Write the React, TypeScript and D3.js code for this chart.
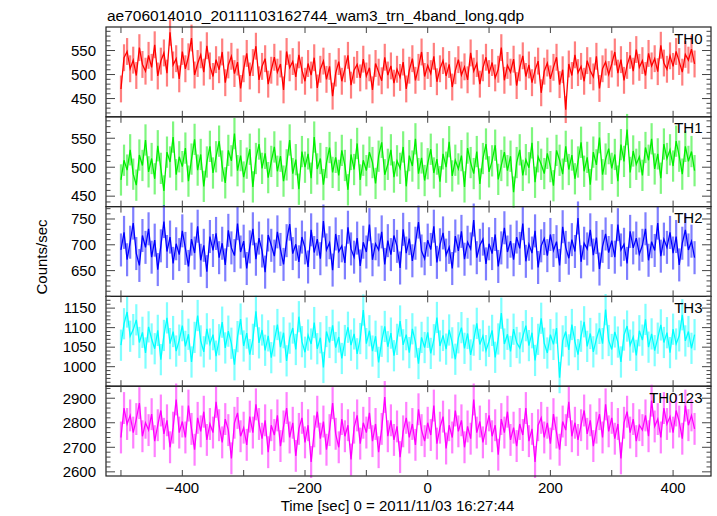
import React from "react";
import * as d3 from "d3";

const TITLE = "ae706014010_20111103162744_wam3_trn_4band_long.qdp";
const X_LABEL = "Time [sec] 0 = 2011/11/03 16:27:44";
const Y_LABEL = "Counts/sec";
const TIME_START = -500;
const BIN = 5;

const TH0 = [
  470, 535, 548, 512, 530, 498, 556, 521, 507, 540,
  515, 562, 497, 528, 545, 503, 588, 520, 533, 491,
  548, 512, 537, 576, 499, 523, 541, 505, 560, 518,
  496, 531, 510, 547, 483, 520, 538, 502, 526, 471,
  512, 544, 497, 525, 559, 489, 517, 533, 480, 509,
  536, 505, 522, 468, 548, 514, 527, 495, 541, 509,
  486, 523, 499, 535, 472, 511, 528, 490, 517, 455,
  503, 527, 486, 512, 540, 478, 509, 521, 493, 532,
  497, 514, 468, 523, 505, 487, 536, 499, 518, 482,
  511, 494, 526, 470, 509, 533, 488, 515, 547, 496,
  519, 502, 538, 485, 512, 529, 497, 521, 474, 508,
  531, 499, 516, 489, 545, 507, 523, 480, 514, 536,
  502, 525, 493, 511, 556, 488, 519, 505, 532, 477,
  514, 539, 496, 520, 483, 509, 528, 462, 507, 524,
  491, 515, 536, 479, 510, 427, 522, 498, 541, 504,
  517, 486, 529, 508, 495, 538, 471, 512, 526, 500,
  522, 547, 503, 531, 488, 519, 540, 507, 552, 515,
  529, 498, 544, 518, 533, 506, 561, 524, 511, 539,
  517, 548, 527, 505, 542, 530, 553, 522,
];
const TH1 = [
  478, 512, 495, 530, 488, 469, 521, 503, 547, 492,
  515, 480, 537, 498, 459, 526, 509, 552, 487, 518,
  501, 533, 476, 514, 548, 495, 522, 467, 509, 536,
  490, 518, 545, 502, 473, 529, 511, 558, 494, 520,
  483, 507, 531, 466, 515, 540, 498, 524, 482, 510,
  535, 493, 519, 476, 504, 547, 489, 513, 462, 527,
  500, 523, 481, 552, 497, 515, 470, 508, 534, 491,
  517, 486, 529, 503, 461, 522, 496, 541, 478, 512,
  494, 526, 508, 472, 519, 543, 487, 505, 530, 483,
  511, 498, 535, 467, 520, 502, 549, 489, 516, 477,
  506, 531, 490, 514, 475, 523, 500, 544, 485, 512,
  497, 520, 466, 533, 508, 489, 527, 471, 515, 540,
  492, 511, 538, 479, 503, 526, 494, 519, 457, 508,
  530, 486, 513, 499, 542, 474, 518, 505, 489, 524,
  501, 468, 529, 512, 488, 536, 496, 521, 480, 509,
  543, 493, 517, 470, 526, 504, 551, 487, 514, 532,
  498, 522, 476, 539, 510, 565, 491, 528, 505, 518,
  486, 534, 512, 549, 497, 523, 481, 540, 515, 530,
  502, 545, 519, 488, 536, 510, 527, 494,
];
const TH2 = [
  690, 724, 671, 705, 742, 683, 660, 718, 695, 731,
  676, 709, 652, 698, 745, 687, 715, 664, 702, 681,
  727, 693, 658, 711, 684, 736, 670, 699, 648, 716,
  689, 722, 675, 703, 661, 728, 694, 679, 741, 686,
  707, 654, 696, 731, 672, 713, 688, 647, 719, 699,
  678, 725, 691, 662, 708, 740, 683, 701, 667, 715,
  694, 657, 729, 685, 711, 673, 746, 690, 704, 651,
  721, 687, 698, 665, 734, 692, 676, 713, 659, 705,
  686, 739, 671, 702, 690, 725, 662, 708, 681, 718,
  697, 655, 730, 684, 712, 669, 703, 744, 688, 673,
  709, 691, 736, 666, 700, 723, 680, 695, 654, 717,
  688, 726, 672, 705, 692, 748, 675, 699, 711, 663,
  702, 683, 720, 658, 694, 733, 686, 707, 671, 715,
  693, 741, 668, 701, 684, 727, 656, 698, 712, 679,
  720, 689, 706, 660, 735, 695, 674, 710, 687, 752,
  667, 703, 692, 729, 680, 714, 653, 697, 721, 685,
  708, 676, 739, 690, 701, 664, 726, 694, 713, 682,
  699, 731, 670, 706, 689, 742, 678, 711, 695, 724,
  684, 716, 661, 703, 729, 690, 707, 675,
];
const TH3 = [
  1055, 1110, 1140, 1078, 1095, 1120, 1062, 1088, 1035, 1102,
  1071, 1046, 1093, 1018, 1080, 1125, 1059, 1090, 1040, 1068,
  1105, 1052, 1083, 1012, 1075, 1131, 1066, 1038, 1097, 1058,
  1082, 1027, 1069, 1114, 1048, 1091, 1060, 1005, 1077, 1122,
  1053, 1086, 1031, 1070, 1142, 1061, 1094, 1042, 1079, 1023,
  1066, 1108, 1050, 1087, 1015, 1073, 1099, 1044, 1128, 1064,
  1037, 1081, 1058, 1113, 1046, 1074, 998, 1090, 1062, 1106,
  1049, 1076, 1021, 1067, 1101, 1055, 1084, 1033, 1072, 1145,
  1059, 1092, 1040, 1078, 1011, 1065, 1103, 1051, 1086, 1028,
  1070, 1117, 1056, 1082, 1036, 1097, 1063, 1008, 1075, 1049,
  1088, 1034, 1069, 1126, 1053, 1080, 1045, 1094, 1061, 1019,
  1074, 1100, 1047, 1085, 1030, 1068, 1111, 1057, 1079, 1041,
  1065, 1093, 1024, 1071, 1137, 1058, 1083, 1039, 1096, 1062,
  1048, 1077, 1105, 1054, 1087, 1016, 1070, 1124, 1060, 1035,
  1082, 1057, 1099, 972, 1066, 1090, 1043, 1108, 1064, 1031,
  1078, 1115, 1052, 1085, 1038, 1071, 1098, 1059, 1146, 1067,
  1044, 1089, 1063, 1012, 1081, 1104, 1055, 1076, 1029, 1092,
  1068, 1121, 1050, 1084, 1041, 1073, 1107, 1062, 1087, 1036,
  1096, 1058, 1079, 1133, 1066, 1090, 1047, 1082,
];
const TH0123 = [
  2740, 2860, 2795, 2830, 2760, 2815, 2880, 2745, 2800, 2770,
  2835, 2725, 2790, 2850, 2755, 2810, 2700, 2780, 2895, 2760,
  2805, 2740, 2870, 2775, 2690, 2820, 2765, 2845, 2730, 2795,
  2760, 2885, 2790, 2720, 2815, 2770, 2655, 2800, 2840, 2745,
  2780, 2710, 2825, 2760, 2875, 2795, 2735, 2810, 2680, 2790,
  2750, 2830, 2705, 2785, 2860, 2740, 2800, 2665, 2775, 2820,
  2720, 2790, 2640, 2765, 2845, 2735, 2805, 2690, 2770, 2880,
  2755, 2700, 2815, 2745, 2790, 2650, 2780, 2830, 2715, 2800,
  2760, 2840, 2725, 2795, 2680, 2775, 2905, 2745, 2810, 2730,
  2785, 2660, 2765, 2820, 2740, 2795, 2710, 2855, 2770, 2725,
  2800, 2750, 2870, 2715, 2780, 2825, 2695, 2790, 2740, 2850,
  2765, 2810, 2700, 2785, 2735, 2895, 2760, 2805, 2720, 2775,
  2830, 2745, 2790, 2670, 2815, 2760, 2845, 2730, 2780, 2705,
  2795, 2750, 2860, 2725, 2775, 2640, 2790, 2820, 2740, 2800,
  2715, 2835, 2760, 2690, 2805, 2770, 2885, 2745, 2800, 2730,
  2790, 2850, 2755, 2810, 2705, 2780, 2835, 2740, 2875, 2765,
  2820, 2735, 2795, 2655, 2800, 2845, 2760, 2815, 2725, 2790,
  2770, 2830, 2745, 2890, 2785, 2815, 2740, 2860, 2795, 2825,
  2760, 2850, 2805, 2735, 2870, 2790, 2830, 2775,
];

const SERIES = [TH0, TH1, TH2, TH3, TH0123];
const NAMES = ["TH0", "TH1", "TH2", "TH3", "TH0123"];
const COLORS = ["#ff0000", "#00ee00", "#0000ff", "#00ffff", "#ff00ff"];
const ERRORS = [28, 27, 32, 40, 65];
const Y_DOMAINS: [number, number][] = [
  [412, 599],
  [432, 587],
  [600, 774],
  [950, 1180],
  [2583, 2949],
];
const Y_MAJOR = [
  [450, 500, 550],
  [450, 500, 550],
  [650, 700, 750],
  [1000, 1050, 1100, 1150],
  [2600, 2700, 2800, 2900],
];
const Y_MINOR_STEP = [10, 10, 10, 10, 20];
const X_TICKS = [-500, -400, -300, -200, -100, 0, 100, 200, 300, 400];
const X_LABELED = [-400, -200, 0, 200, 400];

const W = 717;
const H = 516;
const LEFT = 106;
const RIGHT = 711;
const TOP = 27;
const BOTTOM = 476;
const FONT = "'Liberation Sans', Arial, Helvetica, sans-serif";

export default function App() {
  const x = d3.scaleLinear().domain([-524.4, 461.8]).range([LEFT, RIGHT]);
  const ph = (BOTTOM - TOP) / SERIES.length;
  const fmt = (v: number) => (v < 0 ? "\u2212" + Math.abs(v) : String(v));

  return (
    <svg
      width={W}
      height={H}
      style={{ position: "absolute", left: 0, top: 0, background: "#fff" }}
      fontFamily={FONT}
    >
      <text x={107} y={20.5} fontSize={15.5} fill="#000">
        {TITLE}
      </text>
      {SERIES.map((vals, si) => {
        const top = TOP + si * ph;
        const bot = top + ph;
        const y = d3.scaleLinear().domain(Y_DOMAINS[si]).range([bot, top]);
        const times = vals.map((_, i) => TIME_START + i * BIN);
        const line = d3
          .line<number>()
          .x((_, i) => x(times[i]))
          .y((d) => y(d));
        const [d0, d1] = Y_DOMAINS[si];
        const step = Y_MINOR_STEP[si];
        const minors = d3
          .range(Math.ceil(d0 / step) * step, d1 + 0.001, step)
          .filter((v) => !Y_MAJOR[si].includes(v));
        const err = ERRORS[si];
        return (
          <g key={si}>
            <g stroke={COLORS[si]} strokeOpacity={0.5} strokeWidth={2.2}>
              {vals.map((v, i) => (
                <line
                  key={i}
                  x1={x(times[i])}
                  x2={x(times[i])}
                  y1={y(v - err)}
                  y2={y(v + err)}
                />
              ))}
            </g>
            <path d={line(vals) || ""} fill="none" stroke={COLORS[si]} strokeWidth={1.3} />
            <rect
              x={LEFT}
              y={top}
              width={RIGHT - LEFT}
              height={ph}
              fill="none"
              stroke="#222"
              strokeWidth={1.2}
            />
            <g stroke="#444" strokeWidth={1}>
              {X_TICKS.map((t) => (
                <g key={t}>
                  <line x1={x(t)} x2={x(t)} y1={top} y2={top + 6} />
                  <line x1={x(t)} x2={x(t)} y1={bot} y2={bot - 6} />
                </g>
              ))}
              {Y_MAJOR[si].map((t) => (
                <g key={t}>
                  <line x1={LEFT} x2={LEFT + 9} y1={y(t)} y2={y(t)} />
                  <line x1={RIGHT} x2={RIGHT - 9} y1={y(t)} y2={y(t)} />
                </g>
              ))}
              {minors.map((t) => (
                <g key={"m" + t}>
                  <line x1={LEFT} x2={LEFT + 4.5} y1={y(t)} y2={y(t)} />
                  <line x1={RIGHT} x2={RIGHT - 4.5} y1={y(t)} y2={y(t)} />
                </g>
              ))}
            </g>
            {Y_MAJOR[si].map((t) => (
              <text
                key={"l" + t}
                x={96}
                y={y(t) + 5.3}
                fontSize={15}
                textAnchor="end"
                fill="#000"
              >
                {t}
              </text>
            ))}
            <text
              x={702.5}
              y={top + 16.5}
              fontSize={15}
              textAnchor="end"
              fill="#000"
            >
              {NAMES[si]}
            </text>
          </g>
        );
      })}
      {X_LABELED.map((t) => (
        <text key={t} x={x(t)} y={493} fontSize={15} textAnchor="middle" fill="#000">
          {fmt(t)}
        </text>
      ))}
      <text x={397.5} y={511} fontSize={15} textAnchor="middle" fill="#000">
        {X_LABEL}
      </text>
      <text
        transform={`translate(46.5, 257) rotate(-90)`}
        fontSize={15}
        textAnchor="middle"
        fill="#000"
      >
        {Y_LABEL}
      </text>
    </svg>
  );
}
